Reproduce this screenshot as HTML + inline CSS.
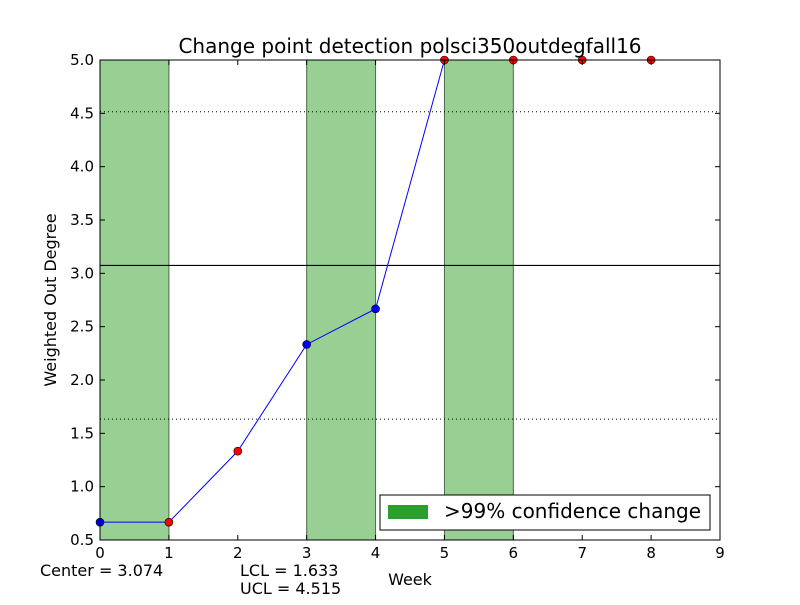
<!DOCTYPE html>
<html><head><meta charset="utf-8"><style>
body{margin:0;background:#fff;}
svg text{font-family:"DejaVu Sans","Liberation Sans",sans-serif;}
</style></head><body>
<svg id="chart" width="800" height="600" xmlns="http://www.w3.org/2000/svg">
<rect width="800" height="600" fill="#fff"/>
<g id="spans"></g>
<g id="hlines"></g>
<g id="series"></g>
<rect x="100" y="60" width="620" height="480" fill="none" stroke="#000" stroke-width="1"/>
<g id="ticks"></g>
<text x="410" y="53" font-size="20" text-anchor="middle">Change point detection polsci350outdegfall16</text>
<text x="410" y="585" font-size="16" text-anchor="middle">Week</text>
<text transform="translate(56,300) rotate(-90)" font-size="16" text-anchor="middle">Weighted Out Degree</text>
<text x="40" y="576" font-size="16">Center = 3.074</text>
<text x="240" y="576" font-size="16">LCL = 1.633</text>
<text x="240" y="594" font-size="16">UCL = 4.515</text>
<g>
<rect x="380" y="495" width="330" height="35" fill="#fff" stroke="#000"/>
<rect x="388" y="505" width="40" height="14" fill="#2ca02c"/>
<text x="444" y="518" font-size="20">&gt;99% confidence change</text>
</g>
</svg>
<script>
const weeks=[0,1,2,3,4,5,6,7,8];
const values=[0.667,0.667,1.333,2.333,2.667,5,5,5,5];
const pointColors=['blue','red','red','blue','blue','red','red','red','red'];
const changeSpans=[[0,1],[3,4],[5,6]];
const center=3.074, lcl=1.633, ucl=4.515;
const xTicks=[0,1,2,3,4,5,6,7,8,9];
const yTicks=[0.5,1.0,1.5,2.0,2.5,3.0,3.5,4.0,4.5,5.0];
const X0=100,X1=720,Y0=540,Y1=60,xmin=0,xmax=9,ymin=0.5,ymax=5;
const sx=v=>X0+(v-xmin)/(xmax-xmin)*(X1-X0);
const sy=v=>Y0-(v-ymin)/(ymax-ymin)*(Y0-Y1);
const NS='http://www.w3.org/2000/svg';
function mk(t,a,p){const e=document.createElementNS(NS,t);for(const k in a)e.setAttribute(k,a[k]);p.appendChild(e);return e;}
const spans=document.getElementById('spans');
changeSpans.forEach((s,i)=>{
 const r=mk('rect',{x:sx(s[0]),y:Y1,width:sx(s[1])-sx(s[0]),height:Y0-Y1,fill:'#98d094',stroke:'#4a6a4a','stroke-width':1},spans);
 
 
});
const hl=document.getElementById('hlines');
const c=mk('line',{x1:X0,x2:X1,y1:sy(center),y2:sy(center),stroke:'#000','stroke-width':1.2},hl);


[[lcl,'lcl-line'],[ucl,'ucl-line']].forEach(([v,n])=>{
 const l=mk('line',{x1:X0,x2:X1,y1:sy(v),y2:sy(v),stroke:'#000','stroke-width':1,'stroke-dasharray':'1,3'},hl);
 
 
});
const sg=document.getElementById('series');
const pl=mk('polyline',{points:weeks.map((w,i)=>sx(w)+','+sy(values[i])).join(' '),fill:'none',stroke:'blue','stroke-width':1},sg);


weeks.forEach((w,i)=>{
 const p=mk('circle',{cx:sx(w),cy:sy(values[i]),r:4,fill:pointColors[i],stroke:'#000','stroke-width':0.6},sg);
 
 
});
const tg=document.getElementById('ticks');
xTicks.forEach(v=>{
 const x=sx(v);
 mk('line',{x1:x,x2:x,y1:Y0,y2:Y0-5,stroke:'#000'},tg);
 mk('line',{x1:x,x2:x,y1:Y1,y2:Y1+5,stroke:'#000'},tg);
 const t=mk('text',{x:x,y:Y0+18,'font-size':15,'text-anchor':'middle'},tg);
 t.textContent=v;
 
 
});
yTicks.forEach(v=>{
 const y=sy(v);
 mk('line',{x1:X0,x2:X0+5,y1:y,y2:y,stroke:'#000'},tg);
 mk('line',{x1:X1,x2:X1-5,y1:y,y2:y,stroke:'#000'},tg);
 const t=mk('text',{x:X0-6,y:y+5,'font-size':15,'text-anchor':'end'},tg);
 t.textContent=v.toFixed(1);
 
 
});
</script>
</body></html>
